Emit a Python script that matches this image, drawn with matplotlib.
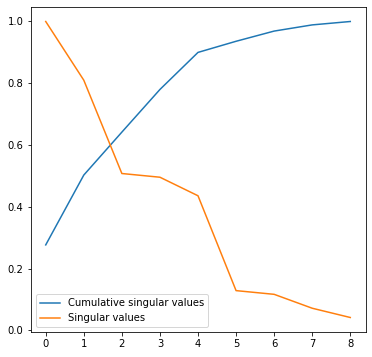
import numpy as np
import matplotlib
matplotlib.use('Agg')
import matplotlib.pyplot as plt

# values
components = [0, 1, 2, 3, 4, 5, 6, 7, 8]
cumulative = [0.277, 0.503, 0.642, 0.780, 0.900, 0.936, 0.969, 0.989, 1.000]
singular = [1.000, 0.810, 0.508, 0.496, 0.436, 0.129, 0.117, 0.072, 0.042]

fig = plt.figure(figsize=(372 / 72, 357 / 72), dpi=72)
ax = fig.add_axes([30.5 / 372, 24.7 / 357, 335 / 372, 325.6 / 357])

ax.plot(components, cumulative, label='Cumulative singular values')
ax.plot(components, singular, label='Singular values')
ax.legend(loc='lower left')

fig.savefig('out.png', dpi=72)
